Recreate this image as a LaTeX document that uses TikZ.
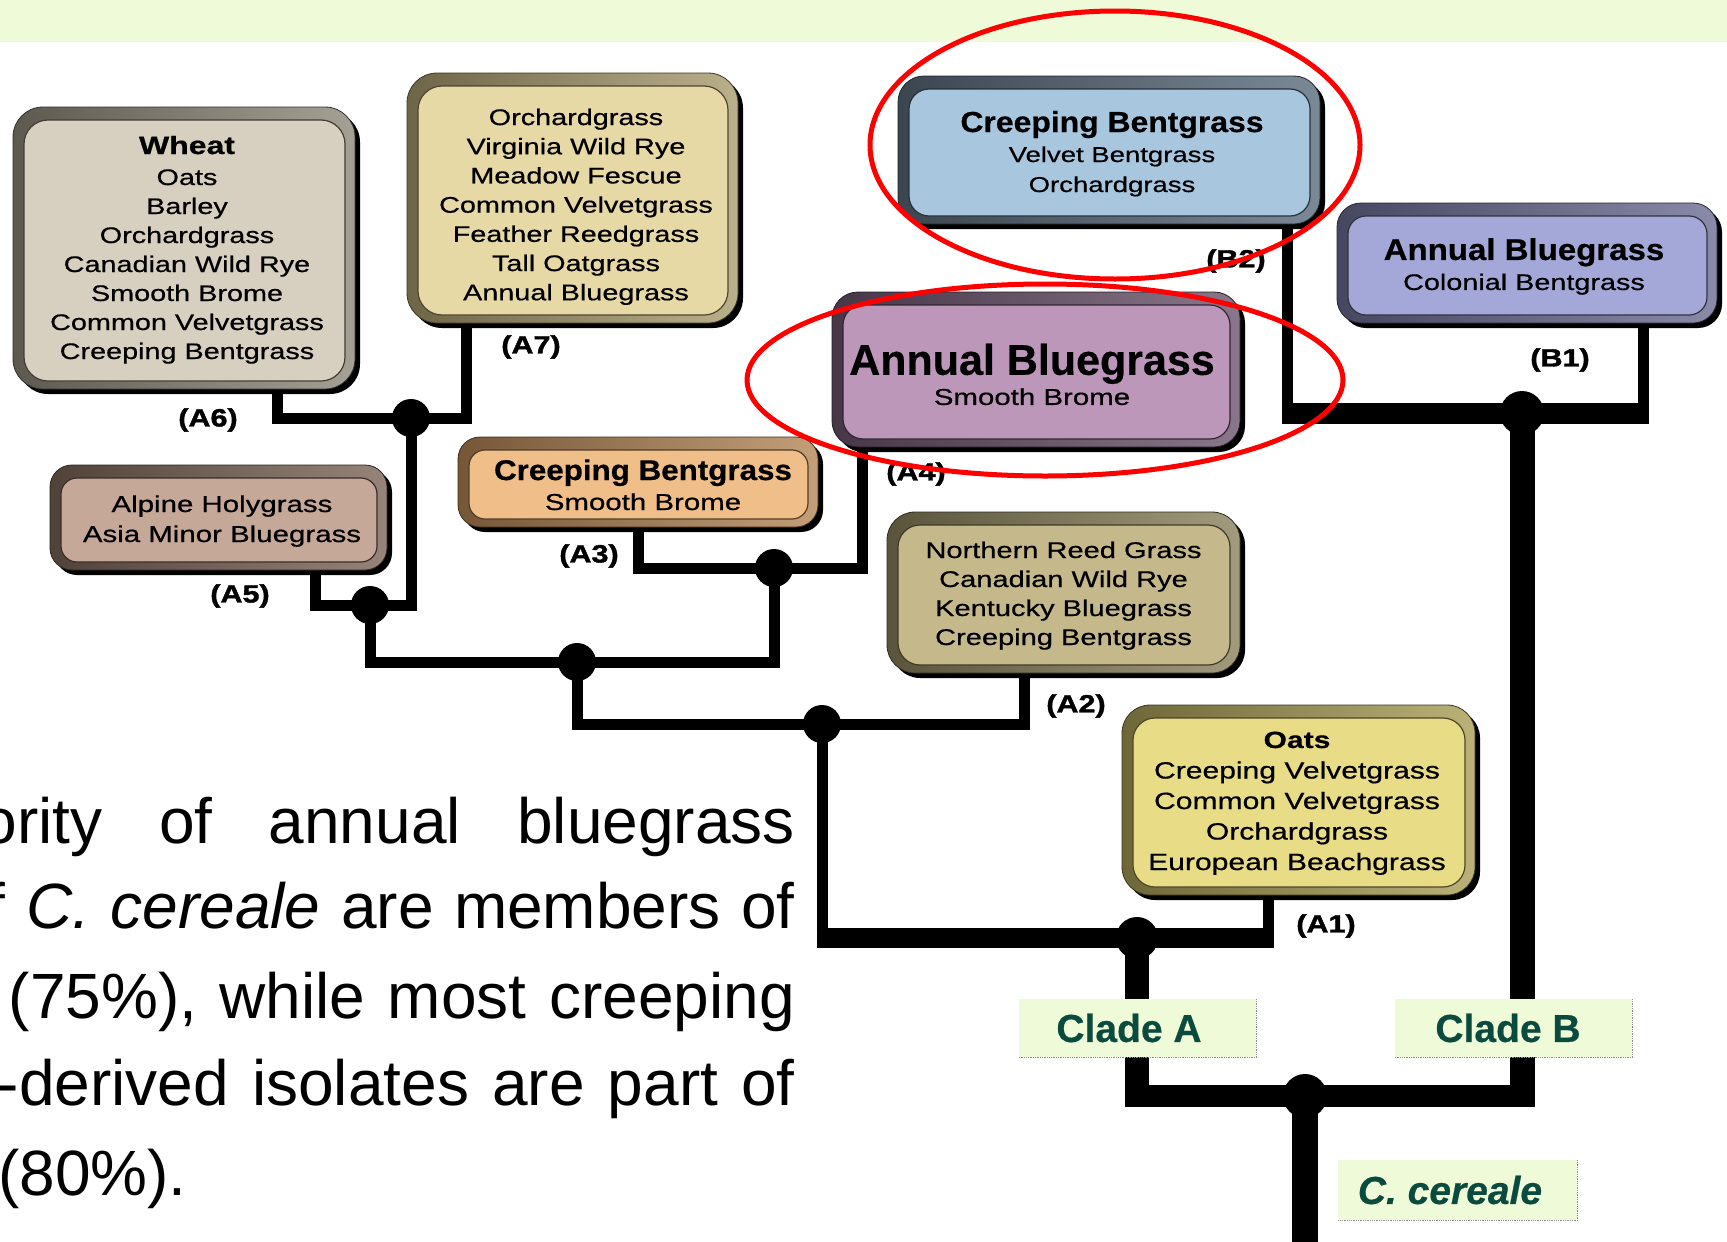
\documentclass[tikz,border=0pt]{standalone}
\usepackage{fontspec}
\setmainfont{Liberation Sans}
\newfontfamily\lst[FakeStretch=1.28,FakeBold=0.6]{Liberation Sans}
\newfontfamily\ttl[FakeStretch=1.1,FakeBold=0.6]{Liberation Sans}
\newfontfamily\heavy[FakeStretch=1.22,FakeBold=1.6]{Liberation Sans}
\newfontfamily\plainbold[FakeBold=0.5]{Liberation Sans}
\usetikzlibrary{shadows,calc}

\definecolor{band}{HTML}{EEFAD8}
\definecolor{cladetext}{HTML}{0B4B3F}
\definecolor{wheatF}{HTML}{D7D0C1}\definecolor{wheatE}{HTML}{8F897A}
\definecolor{sevenF}{HTML}{E6D9A6}\definecolor{sevenE}{HTML}{A99C6E}
\definecolor{blueF}{HTML}{A9C6DF}\definecolor{blueE}{HTML}{5A6B7C}
\definecolor{lavF}{HTML}{A4A8D8}\definecolor{lavE}{HTML}{6C6D93}
\definecolor{plumF}{HTML}{BC97BA}\definecolor{plumE}{HTML}{6C546D}
\definecolor{tanF}{HTML}{C5A898}\definecolor{tanE}{HTML}{7C6558}
\definecolor{orgF}{HTML}{F0BE88}\definecolor{orgE}{HTML}{B48656}
\definecolor{khakiF}{HTML}{C5B98C}\definecolor{khakiE}{HTML}{8A815C}
\definecolor{yelF}{HTML}{E8DC86}\definecolor{yelE}{HTML}{A99E56}

\pgfdeclarelayer{bg}
\pgfsetlayers{bg,main}

% text block inside a box: horizontal kern, vertical shift, font, rows
\newcommand\boxtext[4]{\kern#1\relax\raisebox{#2}[\height][\depth]{#3\begin{tabular}{@{}c@{}}#4\end{tabular}}}

\tikzset{
  grassbox/.style n args={3}{rectangle, rounded corners=#3, inner sep=0pt, outer sep=0pt,
    left color=#2!65!black, right color=#2!80!white, draw=#2!35!black, line width=0.8pt,
    drop shadow={fill=black, opacity=1, shadow xshift=5pt, shadow yshift=-5pt},
    path picture={\fill[#1, draw=#2!45!black, line width=1.2pt, rounded corners=#3-6pt]
      ([xshift=11pt,yshift=-13pt]path picture bounding box.north west) rectangle
      ([xshift=-10pt,yshift=8pt]path picture bounding box.south east);}},
  junc/.style={circle, fill=black, inner sep=0pt, minimum size=#1},
  branch/.style={line width=11pt, black},
  stem/.style={line width=#1pt, black},
  brlabel/.style={font=\heavy\bfseries\fontsize{25}{25}\selectfont, inner sep=0pt},
  clade/.style={fill=band, text=cladetext, font=\plainbold\bfseries\fontsize{39}{39}\selectfont,
    minimum width=237pt, minimum height=58pt, inner sep=0pt},
  cladeedge/.style={densely dotted, black!45, line width=1.3pt},
  para/.style={font=\fontsize{64}{88}\selectfont, inner sep=0pt, anchor=base east},
  ring/.style={red, line width=5pt}
}

\begin{document}
\begin{tikzpicture}[x=1pt,y=-1pt]
\useasboundingbox (0,0) rectangle (1727,1242);
\begin{pgfonlayer}{bg}
  \fill[white] (0,0) rectangle (1727,1242);
  \fill[band] (0,0) rectangle (1727,42);
\end{pgfonlayer}

% ---------- species boxes ----------
\node[grassbox={wheatF}{wheatE}{30pt}, minimum width=342pt, minimum height=282pt] (A6) at (184,248)
  {\boxtext{6pt}{-2.7pt}{\lst\fontsize{22.5}{29}\selectfont}{{\fontsize{25}{29}\selectfont\bfseries Wheat}\\[2pt] Oats\\ Barley\\ Orchardgrass\\ Canadian Wild Rye\\ Smooth Brome\\ Common Velvetgrass\\ Creeping Bentgrass}};
\node[grassbox={sevenF}{sevenE}{30pt}, minimum width=331pt, minimum height=250pt] (A7) at (572.5,198)
  {\boxtext{7pt}{-8.8pt}{\lst\fontsize{22.5}{29.2}\selectfont}{Orchardgrass\\ Virginia Wild Rye\\ Meadow Fescue\\ Common Velvetgrass\\ Feather Reedgrass\\ Tall Oatgrass\\ Annual Bluegrass}};
\node[grassbox={blueF}{blueE}{26pt}, minimum width=422pt, minimum height=148pt] (B2) at (1109,150)
  {\boxtext{6pt}{-6pt}{\lst\fontsize{21.5}{30}\selectfont}{{\ttl\bfseries\fontsize{29}{30}\selectfont Creeping Bentgrass}\\ Velvet Bentgrass\\ Orchardgrass}};
\node[grassbox={lavF}{lavE}{24pt}, minimum width=380pt, minimum height=120pt] (B1) at (1527,263)
  {\boxtext{-6pt}{-5.6pt}{\lst\fontsize{22.5}{30}\selectfont}{{\ttl\bfseries\fontsize{30}{30}\selectfont Annual Bluegrass}\\ Colonial Bentgrass}};
\node[grassbox={plumF}{plumE}{26pt}, minimum width=408pt, minimum height=155pt] (A4) at (1036,369.5)
  {\boxtext{-8pt}{-9.3pt}{\lst\fontsize{23}{30}\selectfont}{{\plainbold\bfseries\fontsize{43}{30}\selectfont Annual Bluegrass}\\ Smooth Brome}};
\node[grassbox={tanF}{tanE}{22pt}, minimum width=337pt, minimum height=105pt] (A5) at (218.5,517.5)
  {\boxtext{7pt}{-3.5pt}{\lst\fontsize{23}{30}\selectfont}{Alpine Holygrass\\ Asia Minor Bluegrass}};
\node[grassbox={orgF}{orgE}{22pt}, minimum width=360pt, minimum height=90pt] (A3) at (638,482)
  {\boxtext{10pt}{-7pt}{\lst\fontsize{23}{30}\selectfont}{{\ttl\bfseries\fontsize{28.5}{30}\selectfont Creeping Bentgrass}\\ Smooth Brome}};
\node[grassbox={khakiF}{khakiE}{28pt}, minimum width=353pt, minimum height=161pt] (A2) at (1063.5,592.5)
  {\boxtext{0pt}{-3.2pt}{\lst\fontsize{22.7}{29}\selectfont}{Northern Reed Grass\\ Canadian Wild Rye\\ Kentucky Bluegrass\\ Creeping Bentgrass}};
\node[grassbox={yelF}{yelE}{28pt}, minimum width=353pt, minimum height=190pt] (A1) at (1298.5,800)
  {\boxtext{-3pt}{-2.9pt}{\lst\fontsize{23.5}{30.5}\selectfont}{{\bfseries Oats}\\ Creeping Velvetgrass\\ Common Velvetgrass\\ Orchardgrass\\ European Beachgrass}};

% attachment points under the boxes
\coordinate (pA6) at ([xshift=93pt]A6.south);
\coordinate (pA7) at ([xshift=-106.5pt]A7.south);
\coordinate (pA5) at ([xshift=96.5pt]A5.south);
\coordinate (pA3) at (A3.south);
\coordinate (pA4) at ([xshift=-174pt]A4.south);
\coordinate (pA2) at ([xshift=-39.5pt]A2.south);
\coordinate (pA1) at ([xshift=-30.5pt]A1.south);
\coordinate (pB2) at ([xshift=178pt]B2.south);
\coordinate (pB1) at ([xshift=116pt]B1.south);
\coordinate (base) at (1305,1242);

% ---------- junctions ----------
\node[junc=38pt] (j67) at (411,418) {};
\node[junc=38pt] (j5) at (370,605) {};
\node[junc=38pt] (jL) at (577,662) {};
\node[junc=38pt] (j34) at (774,568) {};
\node[junc=38pt] (j2) at (822,724) {};
\node[junc=42pt] (jA) at (1137,938) {};
\node[junc=44pt] (jB) at (1522,413) {};
\node[junc=44pt] (root) at (1305,1096) {};

% ---------- branches ----------
\begin{pgfonlayer}{bg}
  \draw[branch] (pA6) |- (j67.center) -| (pA7);
  \draw[branch] (j67.center) |- (j5.center) -| (pA5);
  \draw[branch] (j5.center) |- (jL.center) -| (j34.center);
  \draw[branch] (pA3) |- (j34.center) -| (pA4);
  \draw[branch] (jL.center) |- (j2.center) -| (pA2);
  \draw[branch] (j2.center) -- (j2.center |- jA.center);
  \draw[branch, shorten >=-9pt] (pA1) -- (pA1 |- jA.center);
  \draw[stem=20, shorten <=-5.5pt, shorten >=-5.5pt] (j2.center |- jA.center) -- (pA1 |- jA.center);
  \draw[branch, shorten >=-10pt] (pB2) -- (pB2 |- jB.center);
  \draw[branch, shorten >=-10pt] (pB1) -- (pB1 |- jB.center);
  \draw[stem=21, shorten <=-5.5pt, shorten >=-5.5pt] (pB2 |- jB.center) -- (pB1 |- jB.center);
  \draw[stem=24, shorten >=-11pt] (jA.center) -- (jA.center |- root.center);
  \draw[stem=25, shorten >=-11pt] (jB.center) -- (jB.center |- root.center);
  \draw[stem=22, shorten <=-12pt, shorten >=-12.5pt] (jA.center |- root.center) -- (jB.center |- root.center);
  \draw[stem=26] (root.center) -- (base);
\end{pgfonlayer}

% ---------- branch labels ----------
\node[brlabel] (lA6) at (208,420) {(A6)};
\node[brlabel] (lA7) at (531,347) {(A7)};
\node[brlabel] (lA5) at (240,596) {(A5)};
\node[brlabel] (lA3) at (589,556) {(A3)};
\node[brlabel] (lA4) at (916,474) {(A4)};
\node[brlabel] (lA2) at (1076,706) {(A2)};
\node[brlabel] (lA1) at (1326,926) {(A1)};
\node[brlabel] (lB2) at (1236,261) {(B2)};
\node[brlabel] (lB1) at (1560,360) {(B1)};

% ---------- clade labels ----------
\node[clade] (cA) at (1137.5,1028) {\kern-17pt Clade A};
\node[clade] (cB) at (1513.5,1028) {\kern-11pt Clade B};
\node[clade, minimum width=239pt, minimum height=60pt] (cC) at (1457.5,1190) {\kern-15pt\itshape C. cereale};
\draw[cladeedge] (cA.north east) -- (cA.south east) -- (cA.south west);
\draw[cladeedge] (cB.north east) -- (cB.south east) -- (cB.south west);
\draw[cladeedge] (cC.north east) -- (cC.south east) -- (cC.south west);

% ---------- paragraph ----------
\begin{scope}
  \clip (0,0) rectangle (1727,1242);
  \node[para] (t1) at (795,843) {\hbox to 813pt{ority\hfill of\hfill annual\hfill bluegrass}};
  \node[para] (t2) at (795,928) {\hbox to 807pt{f\hfill \textit{C.}\hfill\textit{cereale}\hfill are\hfill members\hfill of}};
  \node[para] (t3) at (795,1018) {\hbox to 786pt{(75\%),\hfill while\hfill most\hfill creeping}};
  \node[para] (t4) at (795,1105) {\hbox to 797pt{-derived\hfill isolates\hfill are\hfill part\hfill of}};
  \node[para, anchor=base west] (t5) at (-2,1195) {(80\%).};
\end{scope}

% ---------- highlight rings ----------
\draw[ring] (1115,145) ellipse [x radius=245, y radius=134];
\draw[ring] (1045,380) ellipse [x radius=298, y radius=96];
\end{tikzpicture}
\end{document}
